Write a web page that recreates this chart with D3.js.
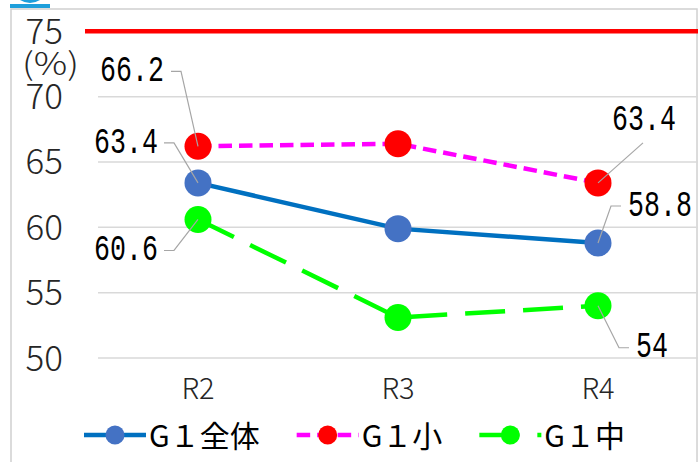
<!DOCTYPE html>
<html>
<head>
<meta charset="utf-8">
<script src="https://cdn.jsdelivr.net/npm/d3@7/dist/d3.min.js"></script>
<style>
  html, body { margin: 0; padding: 0; background: #fff; }
  svg { display: block; }
</style>
</head>
<body>
<svg id="chart" width="698" height="462"></svg>
<script>
// ---- data ----
const categories = ["R2", "R3", "R4"];
const seriesNames = ["G１全体", "G１小", "G１中"];
const valuesAll = [63.4, 59.9, 58.8];
const valuesSho = [66.2, 66.4, 63.4];
const valuesChu = [60.6, 53.1, 54.0];
const yTicks = [50, 55, 60, 65, 70, 75];
const targetValue = 75;
const unitLabel = "(%)";

// ---- styles / layout ----
const styles = [
  { line: "#0070C0", marker: "#4472C4", dash: null, width: 4.5 },
  { line: "#FF00FF", marker: "#FF0000", dash: "13.5,7", width: 4.5 },
  { line: "#00FF00", marker: "#00FF00", dash: "40,18", width: 4.5 }
];
const seriesValues = [valuesAll, valuesSho, valuesChu];
const labelSpecs = [
  { s: 1, i: 0, lx: -66, ly: -75, leader: [[-27, -75], [-17, -75], [0, 0]] },
  { s: 0, i: 0, lx: -72, ly: -40, leader: [[-34, -40], [-24, -40], [0, 0]] },
  { s: 2, i: 0, lx: -72, ly: 31, leader: [[-34, 31], [-24, 31], [0, 0]] },
  { s: 1, i: 2, lx: 46, ly: -63, leader: [[45, -40], [0, 0]] },
  { s: 0, i: 2, lx: 62, ly: -37, leader: [[23, -37], [13, -37], [0, 0]] },
  { s: 2, i: 2, lx: 54, ly: 42, leader: [[0, 0], [21, 42], [31, 42]] }
];

const svg = d3.select("#chart");

// frame
svg.append("rect").attr("x", 11).attr("y", 9).attr("width", 686).attr("height", 470)
  .attr("fill", "none").attr("stroke", "#D0D0D0").attr("stroke-width", 1.5);
// small blue icon fragment at top-left
svg.append("rect").attr("x", 10).attr("y", 4).attr("width", 40).attr("height", 4).attr("fill", "#1E9FDB");
svg.append("path").attr("d", "M20,0 Q30,6 40,0 Z").attr("fill", "#1E9FDB");

const x = d3.scaleBand().domain(categories).range([98, 698]);
const cx = c => x(c) + x.bandwidth() / 2;
const y = d3.scaleLinear().domain([50, 75]).range([358, 31.3]);

// gridlines
svg.append("g").selectAll("line").data(yTicks.filter(t => t !== targetValue)).join("line")
  .attr("x1", 98).attr("x2", 698)
  .attr("y1", d => y(d)).attr("y2", d => y(d))
  .attr("stroke", "#D9D9D9").attr("stroke-width", 1.5);

// target line
svg.append("line").attr("x1", 85).attr("x2", 698)
  .attr("y1", y(targetValue)).attr("y2", y(targetValue))
  .attr("stroke", "#FF0000").attr("stroke-width", 4.5);

// y axis labels
const axisFont = "'Noto Sans CJK JP', 'Noto Sans', sans-serif";
svg.append("g").selectAll("text").data(yTicks).join("text")
  .attr("x", 63).attr("y", d => y(d) - 3)
  .attr("text-anchor", "end").attr("dominant-baseline", "central")
  .attr("font-family", axisFont).attr("font-size", 35).attr("font-weight", 300)
  .attr("fill", "#262626").text(d => d);
svg.append("text").attr("x", 22).attr("y", 61).attr("dominant-baseline", "central")
  .attr("font-family", axisFont).attr("font-size", 31).attr("font-weight", 300)
  .attr("textLength", 57).attr("lengthAdjust", "spacingAndGlyphs")
  .attr("fill", "#262626").text(unitLabel);

// x axis labels
svg.append("g").selectAll("text").data(categories).join("text")
  .attr("x", d => cx(d)).attr("y", 399)
  .attr("text-anchor", "middle")
  .attr("font-family", axisFont).attr("font-size", 29).attr("font-weight", 300)
  .attr("fill", "#262626").text(d => d);

// series
const lineGen = d3.line().x((d, i) => cx(categories[i])).y(d => y(d));
seriesValues.forEach((vals, si) => {
  const st = styles[si];
  svg.append("path").datum(vals).attr("d", lineGen)
    .attr("fill", "none").attr("stroke", st.line).attr("stroke-width", st.width)
    .attr("stroke-dasharray", st.dash).attr("stroke-linejoin", "round");
  svg.append("g").selectAll("circle").data(vals).join("circle")
    .attr("cx", (d, i) => cx(categories[i])).attr("cy", d => y(d)).attr("r", 13.5)
    .attr("fill", st.marker);
});

// data labels
const labelFont = "'Liberation Mono', 'DejaVu Sans Mono', monospace";
labelSpecs.forEach(sp => {
  const v = seriesValues[sp.s][sp.i];
  const px = cx(categories[sp.i]), py = y(v);
  svg.append("path")
    .attr("d", d3.line()(sp.leader.map(p => [px + p[0], py + p[1]])))
    .attr("fill", "none").attr("stroke", "#A6A6A6").attr("stroke-width", 1.2);
  svg.append("text")
    .attr("transform", `translate(${px + sp.lx},${py + sp.ly}) scale(0.72,1)`)
    .attr("text-anchor", "middle").attr("dominant-baseline", "central")
    .attr("font-family", labelFont).attr("font-size", 37)
    .attr("fill", "#000").text(d3.format(".1~f")(v));
});

// legend
const legendFont = "'Noto Sans CJK JP', sans-serif";
let sx = 84;
const ly = 435;
seriesNames.forEach((name, si) => {
  const st = styles[si];
  const g = svg.append("g");
  g.append("line").attr("x1", sx).attr("x2", sx + 62).attr("y1", ly).attr("y2", ly)
    .attr("stroke", st.line).attr("stroke-width", st.width).attr("stroke-dasharray", st.dash);
  g.append("circle").attr("cx", sx + 31).attr("cy", ly).attr("r", 9.5).attr("fill", st.marker);
  const t = g.append("text").attr("x", sx + 65).attr("y", ly + 12)
    .attr("font-family", legendFont).attr("font-size", 30)
    .attr("fill", "#000").text(name);
  const w = t.node().getComputedTextLength();
  sx = sx + 65 + w + 37;
});
</script>
</body>
</html>
